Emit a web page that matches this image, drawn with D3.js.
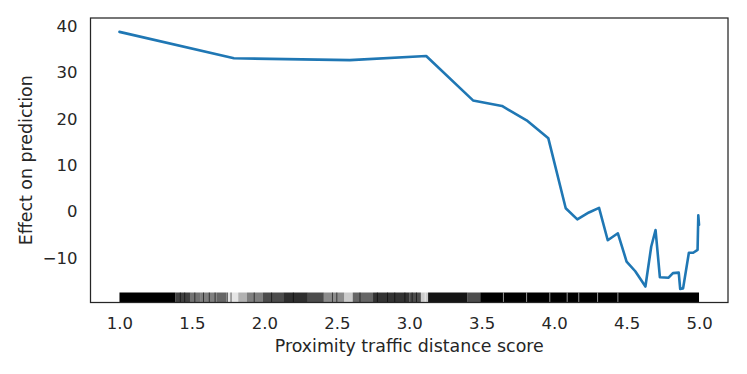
<!DOCTYPE html>
<html>
<head>
<meta charset="utf-8">
<script src="https://cdn.jsdelivr.net/npm/d3@7"></script>
<style>
  body { margin: 0; background: #fff; }
  text { font-family: "DejaVu Sans", sans-serif; fill: #262626; }
</style>
</head>
<body>
<svg id="chart" width="747" height="374"></svg>
<script>
// partial dependence line
const xVals = [1.0, 1.79, 2.59, 3.117, 3.44, 3.64, 3.81, 3.96, 4.08, 4.16, 4.24, 4.31, 4.37, 4.44,
  4.50, 4.56, 4.63, 4.67, 4.70, 4.73, 4.79, 4.82, 4.86, 4.87, 4.89, 4.93, 4.96, 4.99, 4.995, 5.0];
const yVals = [38.8, 33.1, 32.7, 33.6, 24.0, 22.8, 19.7, 15.8, 0.7, -1.7, -0.2, 0.8, -6.2, -4.7,
  -10.8, -12.9, -16.2, -7.6, -4.0, -14.2, -14.3, -13.3, -13.2, -16.7, -16.6, -8.9, -8.9, -8.3, -0.8, -2.9];

// rug: shaded spans of observations (start, end, darkness)
const rugStart = [1.00, 1.386, 1.49, 1.56, 1.67, 1.74, 1.82, 1.88, 1.99, 2.13, 2.30, 2.41, 2.55, 2.61, 2.75, 3.00, 3.08, 3.13, 3.40, 3.49];
const rugEnd   = [1.386, 1.49, 1.56, 1.67, 1.74, 1.82, 1.88, 1.99, 2.13, 2.30, 2.41, 2.55, 2.61, 2.75, 3.00, 3.08, 3.13, 3.40, 3.49, 5.00];
const rugShade = [1.0, 0.75, 0.55, 0.5, 0.6, 0.1, 0.3, 0.5, 0.7, 0.82, 0.7, 0.45, 0.2, 0.6, 0.8, 0.7, 0.2, 0.92, 0.7, 1.0];
// single darker ticks inside the grey spans
const rugTicks = [1.42, 1.45, 1.52, 1.58, 1.62, 1.66, 1.745, 1.77, 1.93, 2.05, 2.2, 2.47, 2.5, 2.66, 2.78, 2.85, 2.9, 2.97, 3.02, 3.05];
// light gaps inside the dense part
const rugGaps = [3.11, 3.65, 3.81, 3.97, 4.09, 4.17, 4.30, 4.44];

const xTicks = [1.0, 1.5, 2.0, 2.5, 3.0, 3.5, 4.0, 4.5, 5.0];
const yTicks = [-10, 0, 10, 20, 30, 40];

const mLeft = 90.5, mRight = 728, mTop = 18, mBottom = 302.5;
const svg = d3.select("#chart");

const x = d3.scaleLinear().domain([0.8, 5.2]).range([mLeft, mRight]);
const y = d3.scaleLinear().domain([-19.65, 41.8]).range([mBottom, mTop]);

// rug
const rugH = 10;
const rug = svg.append("g");
rug.selectAll("rect")
  .data(rugStart.map((s, i) => ({s: s, e: rugEnd[i], a: rugShade[i]})))
  .join("rect")
    .attr("x", d => x(d.s))
    .attr("width", d => x(d.e) - x(d.s))
    .attr("y", mBottom - rugH)
    .attr("height", rugH)
    .attr("fill", "black")
    .attr("fill-opacity", d => d.a);
rug.selectAll("line.tick")
  .data(rugTicks)
  .join("line")
    .attr("class", "tick")
    .attr("x1", d => x(d)).attr("x2", d => x(d))
    .attr("y1", mBottom - rugH).attr("y2", mBottom)
    .attr("stroke", "black").attr("stroke-opacity", 0.6).attr("stroke-width", 1);
rug.selectAll("line.gap")
  .data(rugGaps)
  .join("line")
    .attr("class", "gap")
    .attr("x1", d => x(d)).attr("x2", d => x(d))
    .attr("y1", mBottom - rugH).attr("y2", mBottom)
    .attr("stroke", "white").attr("stroke-opacity", 0.6).attr("stroke-width", 1);

// line
const line = d3.line()
  .x((d, i) => x(xVals[i]))
  .y(d => y(d));
svg.append("path")
  .datum(yVals)
  .attr("d", line)
  .attr("fill", "none")
  .attr("stroke", "#1f77b4")
  .attr("stroke-width", 2.6)
  .attr("stroke-linejoin", "round")
  .attr("stroke-linecap", "round");

// frame
svg.append("rect")
  .attr("x", mLeft).attr("y", mTop)
  .attr("width", mRight - mLeft).attr("height", mBottom - mTop)
  .attr("fill", "none")
  .attr("stroke", "#262626")
  .attr("stroke-width", 1.25);

// axes (labels only, no tick marks)
const xAxis = d3.axisBottom(x).tickValues(xTicks).tickFormat(d3.format(".1f")).tickSize(0).tickPadding(15);
svg.append("g")
  .attr("transform", `translate(0,${mBottom})`)
  .call(xAxis)
  .call(g => g.select(".domain").remove())
  .selectAll("text")
    .style("font-size", "16.5px")
    .style("font-family", "DejaVu Sans")
    .attr("fill", "#262626");

const yAxis = d3.axisLeft(y).tickValues(yTicks).tickFormat(d => d < 0 ? "\u2212" + Math.abs(d) : d).tickSize(0).tickPadding(13);
svg.append("g")
  .attr("transform", `translate(${mLeft},0)`)
  .call(yAxis)
  .call(g => g.select(".domain").remove())
  .selectAll("text")
    .style("font-size", "16.5px")
    .style("font-family", "DejaVu Sans")
    .attr("fill", "#262626");

// axis titles
svg.append("text")
  .attr("x", (mLeft + mRight) / 2)
  .attr("y", 352)
  .attr("text-anchor", "middle")
  .style("font-size", "17.4px")
  .text("Proximity traffic distance score");

svg.append("text")
  .attr("transform", `translate(31.5,${(mTop + mBottom) / 2}) rotate(-90)`)
  .attr("text-anchor", "middle")
  .style("font-size", "17.4px")
  .text("Effect on prediction");
</script>
</body>
</html>
